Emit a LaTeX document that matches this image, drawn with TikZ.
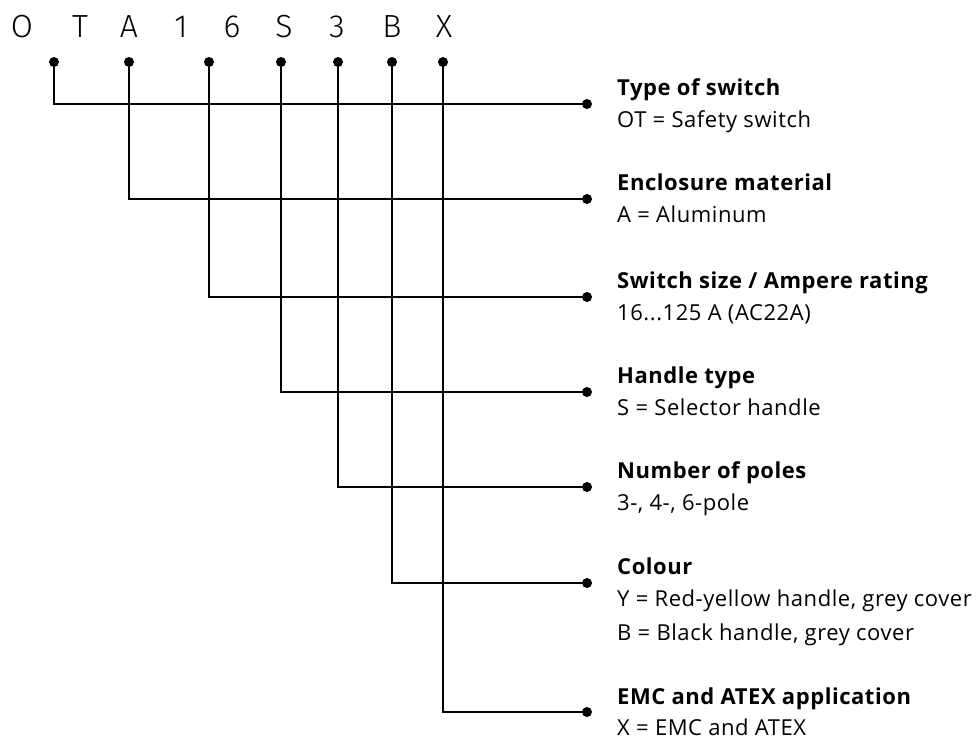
\documentclass[tikz,border=0pt]{standalone}
\usepackage{fontspec}
\setmainfont{Open Sans}[LetterSpace=2.5]
\newfontfamily\thinfont{Fira Sans}[UprightFont=* Light]
\begin{document}
\begin{tikzpicture}[x=1pt,y=-1pt,
  wire/.style={line width=2.2pt},
  dotc/.style={circle, fill=black, inner sep=0pt, minimum size=10pt},
  ttl/.style={anchor=base west, inner sep=0pt, font=\fontsize{22}{26}\selectfont\bfseries},
  sub/.style={anchor=base west, inner sep=0pt, font=\fontsize{22}{26}\selectfont},
  code/.style={anchor=base, inner sep=0pt, font=\fontsize{32}{36}\selectfont\thinfont}]
\useasboundingbox (0,0) rectangle (979,740);
% code letters
\node[code] (cO) at (22,37) {O};
\node[code] (cT) at (80,37) {T};
\node[code] (cA) at (129,37) {A};
\node[code] (c1) at (181,37) {1};
\node[code] (c6) at (232,37) {6};
\node[code] (cS) at (284,37) {S};
\node[code] (c3) at (337,37) {3};
\node[code] (cB) at (392,37) {B};
\node[code] (cX) at (444,37) {X};
% top dots
\node[dotc] (t1) at (54,62) {};
\node[dotc] (t2) at (129,62) {};
\node[dotc] (t3) at (209,62) {};
\node[dotc] (t4) at (281,62) {};
\node[dotc] (t5) at (338,62) {};
\node[dotc] (t6) at (392,62) {};
\node[dotc] (t7) at (443,62) {};
% right dots
\node[dotc] (r1) at (587,104) {};
\node[dotc] (r2) at (587,199) {};
\node[dotc] (r3) at (587,297) {};
\node[dotc] (r4) at (587,392) {};
\node[dotc] (r5) at (587,487) {};
\node[dotc] (r6) at (587,583) {};
\node[dotc] (r7) at (587,712) {};
% connectors
\foreach \i in {1,...,7}{
  \draw[wire] (t\i.center) |- (r\i.center);
}
% labels
\node[ttl] (h1) at (617,95) {Type of switch};
\node[sub] (s1) at (617,127) {OT = Safety switch};
\node[ttl] (h2) at (617,190) {Enclosure material};
\node[sub] (s2) at (617,222) {A = Aluminum};
\node[ttl] (h3) at (617,288) {Switch size / Ampere rating};
\node[sub] (s3) at (617,320) {16...125 A (AC22A)};
\node[ttl] (h4) at (617,383) {Handle type};
\node[sub] (s4) at (617,415) {S = Selector handle};
\node[ttl] (h5) at (617,478) {Number of poles};
\node[sub] (s5) at (617,510) {3-, 4-, 6-pole};
\node[ttl] (h6) at (617,574) {Colour};
\node[sub] (s6) at (617,606) {Y = Red-yellow handle, grey cover};
\node[sub] (s6b) at (617,640) {B = Black handle, grey cover};
\node[ttl] (h7) at (617,704) {EMC and ATEX application};
\node[sub] (s7) at (617,735) {X = EMC and ATEX};
\end{tikzpicture}
\end{document}
